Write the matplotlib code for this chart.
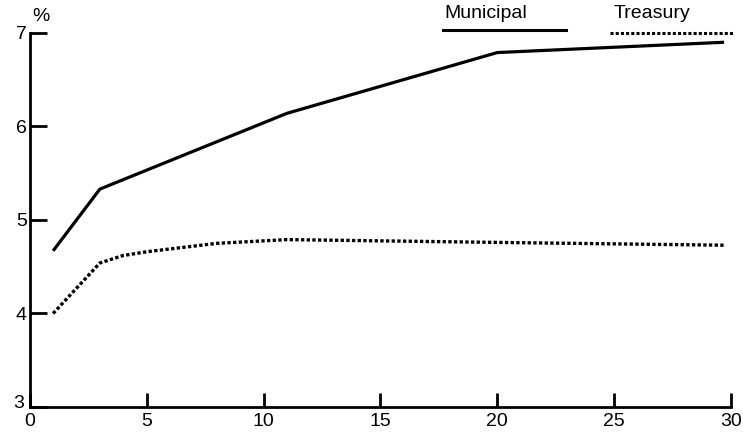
import matplotlib.pyplot as plt
import matplotlib.transforms as mtransforms

# yield curves, maturity in years vs yield in %
muni_years = [1, 3, 11, 20, 29.7]
muni_yield = [4.67, 5.33, 6.14, 6.79, 6.90]

treas_years = [1, 3, 4, 5, 6, 8, 11, 20, 29.7]
treas_yield = [4.0, 4.54, 4.62, 4.66, 4.69, 4.75, 4.79, 4.76, 4.73]

xticks = [0, 5, 10, 15, 20, 25, 30]
yticks = [3, 4, 5, 6, 7]

plt.rcParams['font.family'] = ['Liberation Sans', 'DejaVu Sans']

fig = plt.figure(figsize=(7.43, 4.33), dpi=100)
ax = fig.add_axes([0.040, 0.06, 0.944, 0.864])

ax.plot(muni_years, muni_yield, color='black', lw=2.3, solid_capstyle='butt')
ax.plot(treas_years, treas_yield, color='black', lw=2.4, linestyle=(0, (1, 0.7)))

ax.set_xlim(0, 30)
ax.set_ylim(3, 7)
ax.set_xticks(xticks)
ax.set_yticks(yticks)
ax.tick_params(direction='in', width=2, colors='black', labelsize=14)
ax.tick_params(axis='y', length=12, pad=2)
ax.tick_params(axis='x', length=10, pad=4)

# the bottom "3" sits a little above the axis line, clear of the "0"
lab3 = ax.get_yticklabels()[0]
lab3.set_transform(lab3.get_transform() + mtransforms.ScaledTranslation(-2 / 72, 4 / 72, fig.dpi_scale_trans))

for s in ['top', 'right']:
    ax.spines[s].set_visible(False)
for s in ['left', 'bottom']:
    ax.spines[s].set_linewidth(2)

ax.text(0.003, 1.022, '%', transform=ax.transAxes, fontsize=14, ha='left', va='bottom')

# legend drawn by hand above the curves
ax.text(0.591, 1.03, 'Municipal', transform=ax.transAxes, fontsize=14, ha='left', va='bottom')
ax.plot([0.589, 0.765], [1.008, 1.008], transform=ax.transAxes, color='black', lw=2.2, clip_on=False)
ax.text(0.832, 1.03, 'Treasury', transform=ax.transAxes, fontsize=14, ha='left', va='bottom')
ax.plot([0.828, 1.002], [1.0, 1.0], transform=ax.transAxes, color='black', lw=2.2,
        linestyle=(0, (1, 0.7)), clip_on=False)

fig.savefig('out.png', dpi=100)
